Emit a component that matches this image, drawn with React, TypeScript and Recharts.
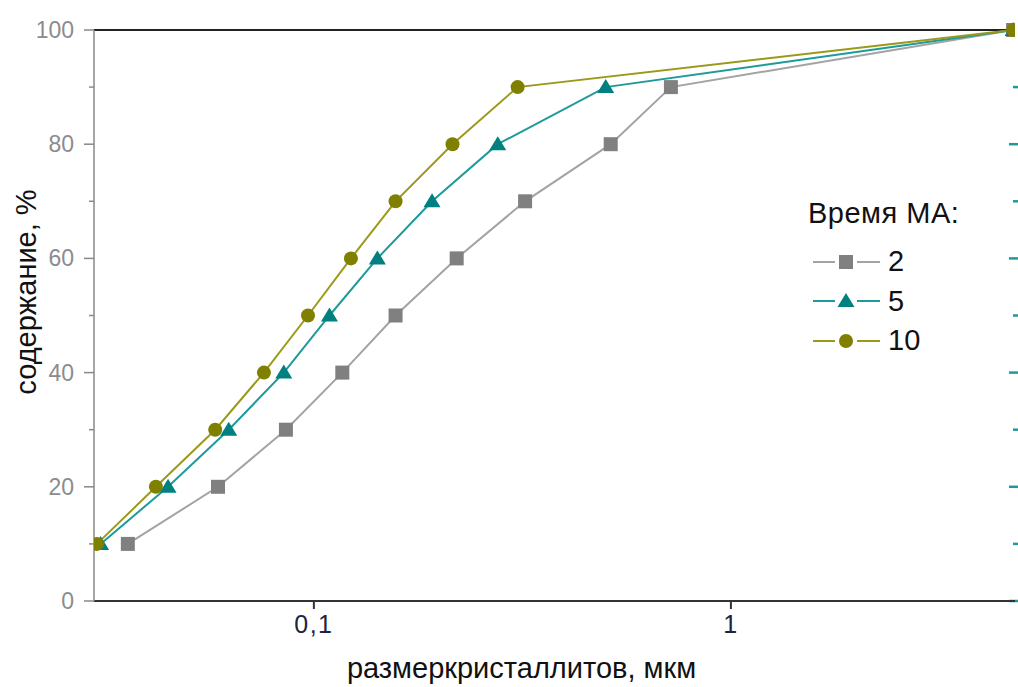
import { LineChart, Line, XAxis, YAxis, ReferenceLine } from 'recharts';

// содержание, % — one value per point
const contentPct = [10, 20, 30, 40, 50, 60, 70, 80, 90, 100];

// crystallite size, µm, for each milling time
const sizes2 = [0.0358, 0.0589, 0.0857, 0.117, 0.157, 0.22, 0.321, 0.515, 0.718, 4.75];
const sizes5 = [0.0308, 0.0447, 0.0625, 0.0847, 0.109, 0.142, 0.192, 0.276, 0.501, 4.75];
const sizes10 = [0.0302, 0.0418, 0.058, 0.0759, 0.0968, 0.1227, 0.157, 0.215, 0.308, 4.75];

const xTicks = [0.1, 1];
const yTicks = [0, 10, 20, 30, 40, 50, 60, 70, 80, 90, 100];
// teal ticks on the right frame
const rightTicks = [0, 10, 20, 30, 40, 50, 60, 70, 80, 90];

const FONT = '"Liberation Sans", Arial, sans-serif';

const toPoints = (xs: number[]) => xs.map((x, i) => ({ x, y: contentPct[i] }));

const series = [
  { name: '2', data: toPoints(sizes2), line: '#a3a3a3', mark: '#808080', shape: 'square' },
  { name: '5', data: toPoints(sizes5), line: '#1f9a9a', mark: '#008080', shape: 'triangle' },
  { name: '10', data: toPoints(sizes10), line: '#9a9a1a', mark: '#808000', shape: 'circle' },
];

function Marker({ shape, cx, cy, fill }: { shape: string; cx: number; cy: number; fill: string }) {
  if (shape === 'square') return <rect x={cx - 7} y={cy - 7} width={14} height={14} fill={fill} />;
  if (shape === 'triangle')
    return <polygon points={`${cx},${cy - 8} ${cx + 8.5},${cy + 6} ${cx - 8.5},${cy + 6}`} fill={fill} />;
  return <circle cx={cx} cy={cy} r={7} fill={fill} />;
}

function LeftTick(props: any) {
  const { x, y, payload } = props;
  const major = payload.value % 20 === 0;
  return (
    <g>
      <line x1={x + (major ? 10 : 15)} x2={x + 20} y1={y} y2={y} stroke="#888" strokeWidth={1.5} />
      {major && (
        <text x={x} y={y} dy={8} textAnchor="end" fill="#8c8c8c" fontSize={23} fontFamily={FONT}>
          {payload.value}
        </text>
      )}
    </g>
  );
}

function LegendBox() {
  return (
    <div style={{ position: 'absolute', left: 808, top: 199, fontFamily: FONT, color: '#111', lineHeight: 1 }}>
      <div style={{ fontSize: 29, height: 43, letterSpacing: 0.5 }}>Время MA:</div>
      {series.map((s) => (
        <div key={s.name} style={{ display: 'flex', alignItems: 'center', height: 39.5 }}>
          <svg width={76} height={20}>
            <line x1={5} x2={27} y1={10} y2={10} stroke={s.line} strokeWidth={2} />
            <line x1={49} x2={72} y1={10} y2={10} stroke={s.line} strokeWidth={2} />
            <Marker shape={s.shape} cx={38} cy={10} fill={s.mark} />
          </svg>
          <span style={{ fontSize: 29, marginLeft: 4 }}>{s.name}</span>
        </div>
      ))}
    </div>
  );
}

export default function App() {
  return (
    <div style={{ position: 'absolute', left: 0, top: 0, width: 1018, height: 687, background: '#fff' }}>
      <LineChart width={1018} height={687} margin={{ top: 30, right: 3, left: 0, bottom: 0 }}>
        <XAxis
          dataKey="x"
          type="number"
          scale="log"
          domain={[0.0297, 4.8]}
          allowDataOverflow
          ticks={xTicks}
          tickFormatter={(v: number) => String(v).replace('.', ',')}
          height={86}
          stroke="#333"
          strokeWidth={2}
          tickSize={8}
          tickMargin={6}
          tick={{ fill: '#1c2540', fontSize: 25, fontFamily: FONT, letterSpacing: 1.5 }}
          label={{
            content: ({ viewBox }: any) => (
              <text
                x={viewBox.x + viewBox.width / 2 - 33}
                y={678}
                textAnchor="middle"
                fill="#111"
                fontSize={29}
                fontFamily={FONT}
              >
                размеркристаллитов, мкм
              </text>
            ),
          }}
        />
        <YAxis
          yAxisId="left"
          type="number"
          domain={[0, 100]}
          ticks={yTicks}
          width={94}
          stroke="#888"
          strokeWidth={1.5}
          tickLine={false}
          tickSize={10}
          tickMargin={10}
          tick={<LeftTick />}
          label={{
            content: () => (
              <text
                x={0}
                y={0}
                transform="translate(36, 292) rotate(-90)"
                textAnchor="middle"
                fill="#111"
                fontSize={29}
                fontFamily={FONT}
              >
                содержание, %
              </text>
            ),
          }}
        />
        <ReferenceLine yAxisId="left" y={100} stroke="#222" strokeWidth={2} />
        {rightTicks.map((v) => (
          <ReferenceLine
            key={`rt-${v}`}
            yAxisId="left"
            y={v}
            shape={(p: any) => (
              <line
                x1={p.x2 - (v % 20 === 0 ? 6 : 2)}
                x2={p.x2 + 3}
                y1={p.y1}
                y2={p.y1}
                stroke="#1f9a9a"
                strokeWidth={2.5}
              />
            )}
          />
        ))}
        {series.map((s) => (
          <Line
            key={s.name}
            yAxisId="left"
            data={s.data}
            dataKey="y"
            name={s.name}
            stroke={s.line}
            strokeWidth={2}
            isAnimationActive={false}
            dot={(p: any) => <Marker key={`${s.name}-${p.index}`} shape={s.shape} cx={p.cx} cy={p.cy} fill={s.mark} />}
            activeDot={false}
          />
        ))}
      </LineChart>
      <LegendBox />
    </div>
  );
}
